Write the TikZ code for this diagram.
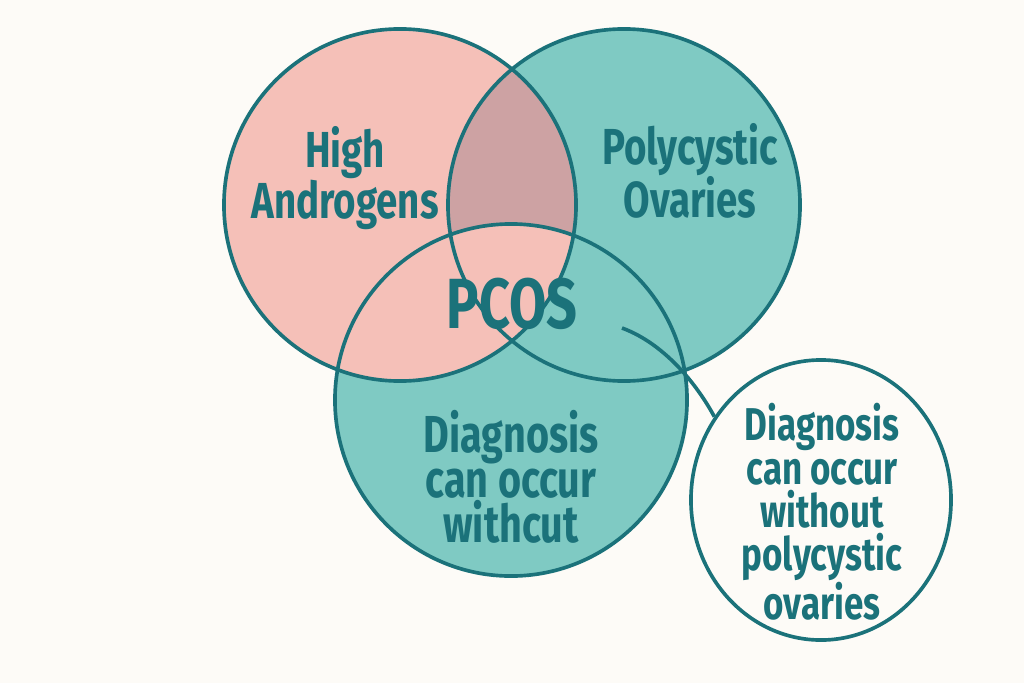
\documentclass[tikz,border=0pt]{standalone}
\usepackage{fontspec}
\setmainfont{Fira Sans}[FakeStretch=0.76]
\usetikzlibrary{shapes.geometric}
\definecolor{bgcol}{HTML}{FDFBF7}
\definecolor{rose}{HTML}{F5C0B8}
\definecolor{aqua}{HTML}{7FCAC3}
\definecolor{mauve}{HTML}{CDA2A3}
\definecolor{inkteal}{HTML}{1B727A}

\begin{document}
\begin{tikzpicture}[
  x=0.025cm, y=-0.025cm,
  ring/.style={draw=inkteal, line width=2.6pt},
  lbl/.style={align=center, text=inkteal, inner sep=0pt,
              font=\bfseries\fontsize{36}{33.4}\selectfont},
  link/.style={draw=inkteal, line width=2.6pt}
]
\fill[bgcol] (0,0) rectangle (1024,683);
\coordinate (andro) at (400,205);
\coordinate (ovary) at (624,205);
\coordinate (diag)  at (511,400);
\fill[rose] (andro) circle[radius=4.4cm];
\fill[aqua] (ovary) circle[radius=4.4cm];
\begin{scope}
  \clip (andro) circle[radius=4.4cm];
  \fill[mauve] (ovary) circle[radius=4.4cm];
\end{scope}
\fill[aqua] (diag) circle[radius=4.4cm];
\begin{scope}
  \clip (diag) circle[radius=4.4cm];
  \fill[rose] (andro) circle[radius=4.4cm];
\end{scope}
\foreach \c in {andro,ovary,diag}
  \draw[ring] (\c) circle[radius=4.4cm];

\node[lbl] (androLbl) at (345,178) {High\\Androgens};
\node[lbl] (ovaryLbl) at (690,171) {Polycystic\\Ovaries};
\node[lbl, anchor=base, font=\bfseries\fontsize{50.5}{50}\selectfont] (pcos) at (512,328) {PCOS};
\node[lbl, font=\bfseries\fontsize{37}{32}\selectfont] (diagLbl) at (511,477) {Diagnosis\\can occur\\withcut};

\node[ring, ellipse, fill=bgcol, inner sep=0pt, minimum width=6.5cm, minimum height=7cm] (note) at (821,500) {};
\node[lbl, font=\bfseries\fontsize{32.7}{30.9}\selectfont] (noteLbl) at (822,512) {Diagnosis\\can occur\\without\\polycystic\\ovaries};
\coordinate (tail) at (622,328);
\draw[link] (tail) .. controls (668,345) and (700,390) .. (note.142);
\end{tikzpicture}
\end{document}
